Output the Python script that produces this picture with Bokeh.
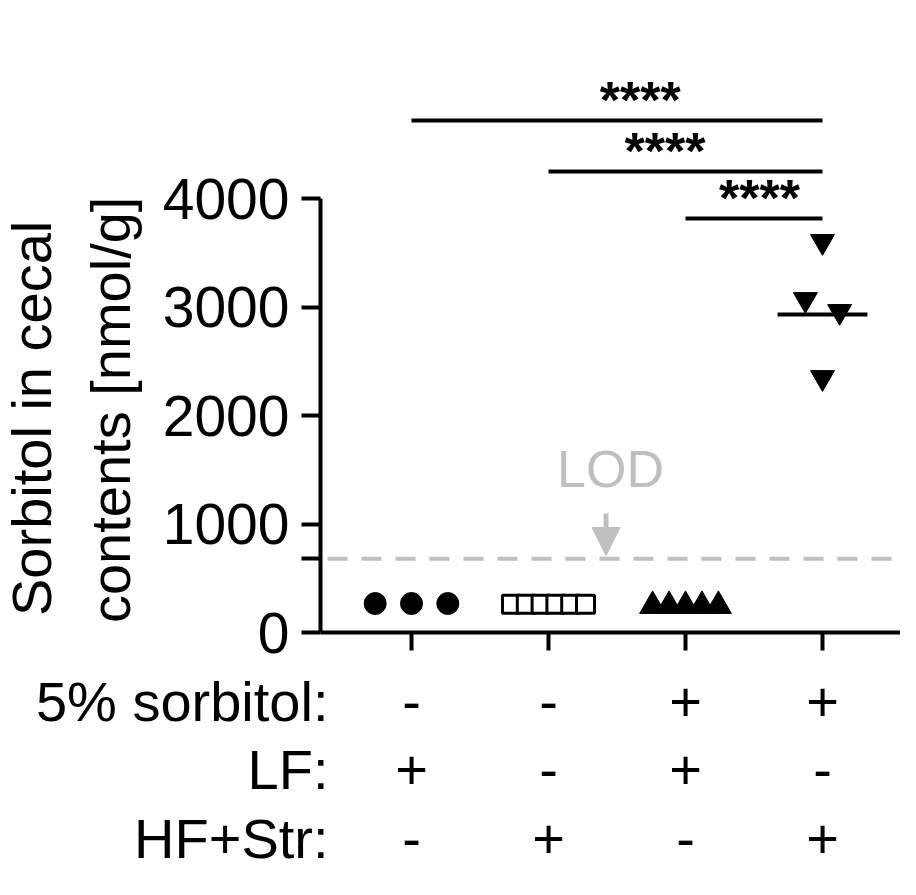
import math
from bokeh.plotting import figure
from bokeh.layouts import column, row
from bokeh.models import Range1d, FixedTicker, Label, Arrow, NormalHead
from bokeh.core.properties import value
from bokeh.embed import file_html
from bokeh.resources import INLINE

# ---------------- data ----------------
group_pos = [1, 2, 3, 4]
g1_vals = [267, 267, 267]                 # 5% sorbitol -, LF +
g2_vals = [260, 260, 260, 260, 260, 260]  # HF+Str
g3_vals = [245, 245, 245, 245, 245]       # sorbitol + LF
g4_vals = [3604, 3069, 2959, 2350]        # sorbitol + HF+Str
g4_center = 2931
lod = 680
y_ticks = [0, 1000, 2000, 3000, 4000]
y_title = ["Sorbitol in cecal", "contents [nmol/g]"]
row_labels = ["5% sorbitol:", "LF:", "HF+Str:"]
sorbitol = ["-", "-", "+", "+"]
lf = ["+", "-", "+", "-"]
hfstr = ["-", "+", "-", "+"]
comparisons = [(1, 4, "****"), (2, 4, "****"), (3, 4, "****")]
comparison_y = [4719, 4249, 3816]

# ---------------- styles / layout ----------------
FONT = "Liberation Sans"
GRAY = "#bfbfbf"
W, H = 900, 879
LEFT_W = 150          # width of the y-title panel
TOP_H = 667           # height of the chart row
AX_W = 4


def X(px):  # page pixel -> data x
    return 1 + (px - 411) / 137.0


def Y(py):  # page pixel -> data y
    return (632 - py) / 0.1085


def swarm(vals, step, tol):
    n = len(vals)
    offs = [0.0] * n
    order = sorted(range(n), key=lambda i: vals[i])
    clusters, cur = [], [order[0]]
    for i in order[1:]:
        if abs(vals[i] - vals[cur[-1]]) <= tol:
            cur.append(i)
        else:
            clusters.append(cur)
            cur = [i]
    clusters.append(cur)
    for c in clusters:
        c = sorted(c)
        k = len(c)
        for j, idx in enumerate(c):
            offs[idx] = (j - (k - 1) / 2.0) * step
    return offs


def blank(fig):
    fig.outline_line_color = None
    fig.xgrid.visible = False
    fig.ygrid.visible = False
    fig.background_fill_color = "white"
    fig.border_fill_color = "white"


# ---------- main chart ----------
p = figure(width=W - LEFT_W, height=TOP_H, output_backend="svg", toolbar_location=None,
           x_range=Range1d(X(320), X(W)), y_range=Range1d(0, Y(0)),
           min_border_left=320 - LEFT_W, min_border_right=0, min_border_top=0,
           min_border_bottom=TOP_H - 632)
blank(p)

ya = p.yaxis[0]
ya.ticker = FixedTicker(ticks=y_ticks + [lod])
ya.major_label_overrides = {lod: ""}
ya.bounds = (0, 4000)
ya.axis_line_width = AX_W
ya.major_tick_line_width = AX_W
ya.major_tick_out = 19
ya.major_tick_in = 0
ya.minor_tick_line_color = None
ya.major_label_standoff = 12
ya.major_label_text_font_size = "57px"
ya.major_label_text_font = FONT
ya.major_label_text_color = "black"

xa = p.xaxis[0]
xa.ticker = FixedTicker(ticks=group_pos)
xa.axis_line_width = AX_W
xa.major_tick_line_width = AX_W
xa.major_tick_out = 18
xa.major_tick_in = 0
xa.minor_tick_line_color = None
xa.major_label_text_alpha = 0
xa.major_label_text_font_size = "1px"
xa.major_label_standoff = 0

# LOD line
p.segment(x0=[X(327)], x1=[X(W)], y0=[lod], y1=[lod], line_color=GRAY,
          line_width=4, line_dash="20 14")

groups = [
    (g1_vals, dict(marker="circle", size=22, fill_color="black", line_color="black", line_width=1), 0.265),
    (g2_vals, dict(marker="square", size=18, fill_color="white", line_color="black", line_width=3), 0.108),
    (g3_vals, dict(marker="triangle", size=26, fill_color="black", line_color="black", line_width=1), 0.12),
    (g4_vals, dict(marker="inverted_triangle", size=24, fill_color="black", line_color="black", line_width=1), 0.25),
]
p.segment(x0=[group_pos[3] - 0.328], x1=[group_pos[3] + 0.328], y0=[g4_center], y1=[g4_center],
          line_color="black", line_width=4)
for (vals, style, step), gx in zip(groups, group_pos):
    offs = swarm(vals, step, 200)
    p.scatter(x=[gx + o for o in offs], y=vals, **style)

# significance bars
star_dx = [0.17, -0.15, 0.04]
for (a, b, txt), yy, dx in zip(comparisons, comparison_y, star_dx):
    p.segment(x0=[a], x1=[b], y0=[yy], y1=[yy], line_color="black", line_width=4)
    p.text(x=[(a + b) / 2 + dx], y=[yy], text=[txt], text_align="center",
           text_baseline="alphabetic", text_font=value(FONT), text_font_style="bold",
           text_font_size="52px", text_color="black", y_offset=-20)

# LOD annotation
p.add_layout(Label(x=X(610), y=Y(468), text="LOD", text_align="center",
                   text_baseline="alphabetic", text_font=FONT, text_font_size="52px",
                   text_color=GRAY))
p.add_layout(Arrow(end=NormalHead(size=28, fill_color=GRAY, line_color=GRAY, line_width=1),
                   x_start=X(605.5), y_start=Y(513), x_end=X(605.5), y_end=Y(555),
                   line_color=GRAY, line_width=5))

# ---------- y-axis title panel ----------
t = figure(width=LEFT_W, height=TOP_H, output_backend="svg", toolbar_location=None,
           x_range=Range1d(0, LEFT_W), y_range=Range1d(TOP_H, 0),
           x_axis_location=None, y_axis_location=None,
           min_border_left=0, min_border_right=0, min_border_top=0, min_border_bottom=0)
blank(t)
for txt, bx, cy in zip(y_title, [31, 110], [441, 432]):
    t.add_layout(Label(x=bx, y=cy, text=txt, angle=math.pi / 2,
                       text_align="center", text_baseline="alphabetic",
                       text_font=FONT, text_font_size="56px", text_color="black"))

# ---------- condition table ----------
tb = figure(width=W, height=H - TOP_H, output_backend="svg", toolbar_location=None,
            x_range=Range1d(X(0), X(W)), y_range=Range1d(H, TOP_H),
            x_axis_location=None, y_axis_location=None,
            min_border_left=0, min_border_right=0, min_border_top=0, min_border_bottom=0)
blank(tb)
row_base = [701, 769, 838]
for lab, signs, by in zip(row_labels, [sorbitol, lf, hfstr], row_base):
    tb.add_layout(Label(x=X(328), y=by, text=lab, text_align="right",
                        text_baseline="alphabetic", text_font=FONT,
                        text_font_size="56px", text_color="black"))
    for gx, s in zip(group_pos, signs):
        tb.add_layout(Label(x=gx, y=by, text=s, text_align="center",
                            text_baseline="alphabetic", text_font=FONT,
                            text_font_size="56px", text_color="black"))

layout = column(row(t, p, spacing=0), tb, spacing=0)
open("out.html", "w").write(file_html(layout, INLINE))
